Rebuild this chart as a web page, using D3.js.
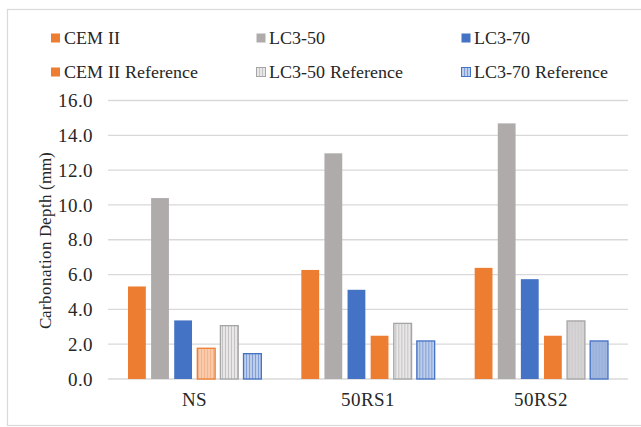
<!DOCTYPE html>
<html>
<head>
<meta charset="utf-8">
<script src="https://cdn.jsdelivr.net/npm/d3@7"></script>
<style>
  @font-face {
    font-family: "ChartSerif";
    src: local("Liberation Serif"), local("LiberationSerif"), local("LiberationSerif-Regular"),
         local("Liberation Serif Regular"), local("Times New Roman"), local("Tinos");
    font-weight: normal;
    font-style: normal;
  }
</style>
</head>
<body style="margin:0">
<svg id="chart" width="641" height="427"></svg>
<script>
// Carbonation depth per mix and exposure condition
const categories = ["NS", "50RS1", "50RS2"];
const seriesNames = ["CEM II", "LC3-50", "LC3-70", "CEM II Reference", "LC3-50 Reference", "LC3-70 Reference"];
const cemII        = [5.35, 6.30, 6.42];
const lc3_50       = [10.43, 13.00, 14.72];
const lc3_70       = [3.40, 5.16, 5.77];
const cemIIRef     = [1.80, 2.52, 2.52];
const lc3_50Ref    = [3.10, 3.23, 3.37];
const lc3_70Ref    = [1.49, 2.22, 2.22];
const yTicks = [0, 2, 4, 6, 8, 10, 12, 14, 16];

const seriesValues = [cemII, lc3_50, lc3_70, cemIIRef, lc3_50Ref, lc3_70Ref];

const FONT_STACK = "ChartSerif, 'Liberation Serif', 'Times New Roman', serif";
const INK = "#262626";

// serif label styling, set inline so it wins over the axis defaults
function serif(sel, size) {
  return sel.attr("font-family", "ChartSerif")
    .style("font-family", FONT_STACK)
    .style("font-size", size + "px")
    .style("fill", INK);
}

const svg = d3.select("#chart");
const plot = { left: 108, right: 628, top: 100.5, bottom: 379 };

// outer frame
svg.append("rect")
  .attr("x", 7.5).attr("y", 9.5)
  .attr("width", 640).attr("height", 416)
  .attr("fill", "#fff").attr("stroke", "#d9d9d9").attr("stroke-width", 1.2);

// stripe patterns for the reference bars
const defs = svg.append("defs");
function stripes(id, bg, line, lineW) {
  const p = defs.append("pattern").attr("id", id)
    .attr("patternUnits", "userSpaceOnUse")
    .attr("width", 3).attr("height", 6);
  p.append("rect").attr("width", 3).attr("height", 6).attr("fill", bg);
  p.append("rect").attr("x", 0).attr("width", lineW).attr("height", 6).attr("fill", line);
}
stripes("pCem", "#F8CBAD", "#F5B48A", 1);
stripes("pL50", "#E9E8E8", "#C4C2C2", 1);
stripes("pL70", "#BDCDEA", "#7F9FD6", 1);
stripes("pL50b", "#D6D4D4", "#CCCACA", 1);
stripes("pL70b", "#A3B8DE", "#98AEDA", 1);

const seriesStyle = [
  { fill: "#ED7D31", stroke: "none" },
  { fill: "#AFABAB", stroke: "none" },
  { fill: "#4472C4", stroke: "none" },
  { fill: "url(#pCem)", stroke: "#ED7D31" },
  { fill: "url(#pL50)", stroke: "#A5A5A5" },
  { fill: "url(#pL70)", stroke: "#4472C4" }
];
// per-group overrides of the reference bar fills
const styleOverride = {
  "50RS1|3": { fill: "#ED7D31", stroke: "none" },
  "50RS2|3": { fill: "#ED7D31", stroke: "none" },
  "50RS2|4": { fill: "url(#pL50b)", stroke: "#A5A5A5" },
  "50RS2|5": { fill: "url(#pL70b)", stroke: "#4472C4" }
};
const legendStyle = [
  { fill: "#ED7D31", stroke: "none" },
  { fill: "#AFABAB", stroke: "none" },
  { fill: "#4472C4", stroke: "none" },
  { fill: "#ED7D31", stroke: "none" },
  { fill: "url(#pL50)", stroke: "#A5A5A5" },
  { fill: "url(#pL70)", stroke: "#4472C4" }
];

const x0 = d3.scaleBand().domain(categories).range([plot.left, plot.right]).padding(0);
const x1 = d3.scaleBand().domain(d3.range(seriesNames.length))
  .range([0, x0.bandwidth()]).paddingInner(0.177).paddingOuter(0.84);
const y = d3.scaleLinear().domain([0, 16]).range([plot.bottom, plot.top]);

// gridlines
svg.append("g").selectAll("line").data(yTicks).join("line")
  .attr("x1", plot.left).attr("x2", plot.right)
  .attr("y1", d => y(d)).attr("y2", d => y(d))
  .attr("stroke", "#d9d9d9").attr("stroke-width", 1.3);

// y axis labels
const yAxis = d3.axisLeft(y).tickValues(yTicks).tickFormat(d3.format(".1f")).tickSize(0).tickPadding(0);
const gy = svg.append("g").attr("transform", `translate(${plot.left - 15},0)`).call(yAxis);
gy.attr("font-family", null).attr("font-size", null);
gy.select(".domain").remove();
serif(gy.selectAll("text"), 19);

// bars
const groups = svg.append("g").selectAll("g").data(categories).join("g")
  .attr("transform", d => `translate(${x0(d)},0)`);
groups.selectAll("rect")
  .data((c, ci) => seriesValues.map((vals, si) => ({ c, si, v: vals[ci] })))
  .join("rect")
  .attr("x", d => x1(d.si) + 0.6)
  .attr("width", x1.bandwidth() - 1.2)
  .attr("y", d => y(d.v) + 0.6)
  .attr("height", d => y(0) - y(d.v) - 0.6)
  .attr("fill", d => (styleOverride[d.c + "|" + d.si] || seriesStyle[d.si]).fill)
  .attr("stroke", d => (styleOverride[d.c + "|" + d.si] || seriesStyle[d.si]).stroke)
  .attr("stroke-width", 1.3);

// x axis labels
const xAxis = d3.axisBottom(x0).tickSize(0).tickPadding(0);
const gx = svg.append("g").attr("transform", `translate(0,${plot.bottom + 27})`).call(xAxis);
gx.attr("font-family", null).attr("font-size", null);
gx.select(".domain").remove();
serif(gx.selectAll("text"), 19).attr("y", 0).attr("dy", 0);

// y axis title
serif(svg.append("text"), 16.5)
  .attr("transform", `translate(51,${(plot.top + plot.bottom) / 2 + 1}) rotate(-90)`)
  .attr("text-anchor", "middle")
  .text("Carbonation Depth (mm)");

// legend: two rows of three
const legendCols = [50.5, 256, 461];
const legendRows = [38, 72];
const lg = svg.append("g").selectAll("g").data(seriesNames).join("g")
  .attr("transform", (d, i) => `translate(${legendCols[i % 3]},${legendRows[Math.floor(i / 3)]})`);
lg.append("rect")
  .attr("x", 0.5).attr("y", -4.5).attr("width", 9).attr("height", 9)
  .attr("fill", (d, i) => legendStyle[i].fill)
  .attr("stroke", (d, i) => legendStyle[i].stroke)
  .attr("stroke-width", 1);
serif(lg.append("text"), 18.3)
  .attr("x", 13).attr("dy", "0.35em")
  .text(d => d);

// make sure the locally backed face is in use once it resolves
if (document.fonts && document.fonts.load) {
  document.fonts.load("18px ChartSerif").then(() => {
    svg.selectAll("text").style("font-family", FONT_STACK);
  });
}
</script>
</body>
</html>
